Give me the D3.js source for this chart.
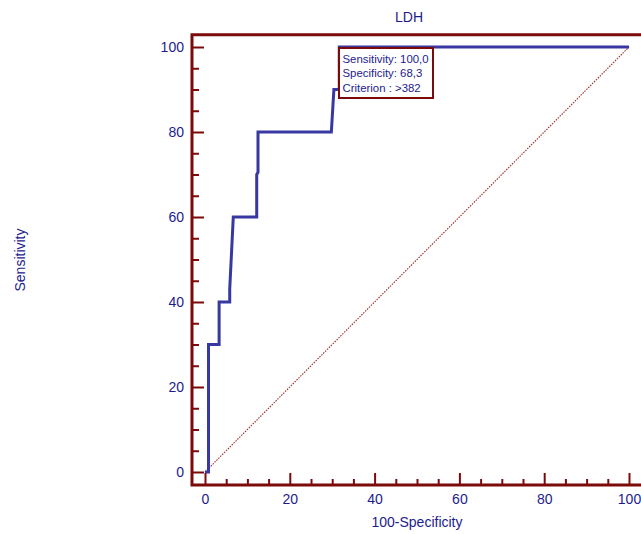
<!DOCTYPE html>
<html>
<head>
<meta charset="utf-8">
<script src="https://cdn.jsdelivr.net/npm/d3@7"></script>
<style>
  html, body { margin: 0; padding: 0; background: #fff; }
  svg { display: block; }
  text { font-family: "Liberation Sans", Arial, sans-serif; }
</style>
</head>
<body>
<svg id="chart" width="641" height="534"></svg>
<script>
// ---- data ----
const title = "LDH";
const xLabel = "100-Specificity";
const yLabel = "Sensitivity";
const xTicks = [0, 20, 40, 60, 80, 100];
const yTicks = [0, 20, 40, 60, 80, 100];
const minorTicks = [5, 10, 15, 25, 30, 35, 45, 50, 55, 65, 70, 75, 85, 90, 95];
const rocFpr = [0, 0.83, 0.83, 3.33, 3.33, 5.83, 5.83, 6.67, 12.2, 12.2, 12.5, 12.5, 29.8, 30.4, 31.67, 31.67, 100];
const rocTpr = [0, 0, 30, 30, 40, 40, 43, 60, 60, 70, 70.5, 80, 80, 90, 90, 100, 100];
const refLine = [[0, 0], [100, 100]];
const annotation = ["Sensitivity: 100,0", "Specificity: 68,3", "Criterion : >382"];

// ---- styles ----
const axisColor = "#7d0a0a";
const textColor = "#1c1c8e";
const curveColor = "#3838a2";

const svg = d3.select("#chart");
const x = d3.scaleLinear().domain([0, 100]).range([205, 629]);
const y = d3.scaleLinear().domain([0, 100]).range([472, 47]);

const frameLeft = x(-3.07), frameBottom = y(-3.06), frameTop = y(102.9), frameRight = x(104);

// reference diagonal
svg.append("line")
  .attr("x1", x(refLine[0][0])).attr("y1", y(refLine[0][1]))
  .attr("x2", x(refLine[1][0])).attr("y2", y(refLine[1][1]))
  .attr("stroke", "#a02828").attr("stroke-width", 1.1)
  .attr("stroke-dasharray", "1.5,1.2");

// ROC curve
const pts = rocFpr.map((f, i) => [f, rocTpr[i]]);
svg.append("path")
  .datum(pts)
  .attr("d", d3.line().x(d => x(d[0])).y(d => y(d[1])))
  .attr("fill", "none").attr("stroke", curveColor).attr("stroke-width", 3)
  .attr("stroke-linejoin", "miter");

// Y axis (ticks inward)
const yAxisG = svg.append("g").attr("transform", `translate(${frameLeft},0)`)
  .call(d3.axisLeft(y).tickValues(yTicks).tickSize(-12).tickPadding(8));
const yMinorG = svg.append("g").attr("transform", `translate(${frameLeft},0)`)
  .call(d3.axisLeft(y).tickValues(minorTicks).tickSize(-7).tickFormat(""));

// X axis (ticks upward)
const xAxisG = svg.append("g").attr("transform", `translate(0,${frameBottom})`)
  .call(d3.axisBottom(x).tickValues(xTicks).tickSize(-12).tickPadding(9));
const xMinorG = svg.append("g").attr("transform", `translate(0,${frameBottom})`)
  .call(d3.axisBottom(x).tickValues(minorTicks).tickSize(-6).tickFormat(""));

[yAxisG, yMinorG, xAxisG, xMinorG].forEach(g => {
  g.select(".domain").remove();
  g.selectAll(".tick line").attr("stroke", axisColor).attr("stroke-width", 2);
  g.selectAll(".tick text").attr("fill", textColor).attr("font-size", 14)
    .attr("font-family", "'Liberation Sans', Arial, sans-serif");
});

// frame
svg.append("path")
  .attr("d", `M${frameRight},${frameTop}H${frameLeft}V${frameBottom}H${frameRight}`)
  .attr("fill", "none").attr("stroke", axisColor).attr("stroke-width", 3);

// annotation box
const bx = 339, by = 48, bw = 94, bh = 50;
svg.append("rect").attr("x", bx).attr("y", by).attr("width", bw).attr("height", bh)
  .attr("fill", "#fff").attr("stroke", axisColor).attr("stroke-width", 2);
annotation.forEach((t, i) => {
  svg.append("text").attr("x", bx + 3.5).attr("y", by + 14.5 + i * 14.5)
    .attr("fill", textColor).attr("font-size", 11.4).text(t);
});

// titles
svg.append("text").attr("x", 409).attr("y", 22).attr("text-anchor", "middle")
  .attr("fill", textColor).attr("font-size", 14).text(title);
svg.append("text").attr("x", 417).attr("y", 527).attr("text-anchor", "middle")
  .attr("fill", textColor).attr("font-size", 14).text(xLabel);
svg.append("text").attr("transform", "translate(25,260) rotate(-90)")
  .attr("text-anchor", "middle").attr("fill", textColor).attr("font-size", 14).text(yLabel);
</script>
</body>
</html>
